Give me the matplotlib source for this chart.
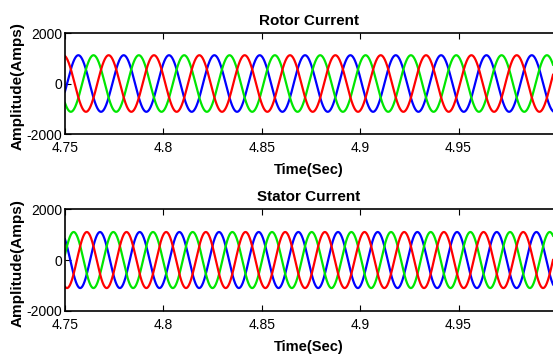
import numpy as np
import matplotlib
matplotlib.use('Agg')
import matplotlib.pyplot as plt

plt.rcParams['font.family'] = ['Liberation Sans', 'DejaVu Sans']

# datos: frecuencia (Hz), amplitud (A), instante del pico (s) por fase
titulos = ['Rotor Current', 'Stator Current']
colores = ['#0000ff', '#00e600', '#ff0000']
frecuencias = [43.4, 49.6]
amplitudes = [1120, 1100]
picos_rotor = [4.7568, 4.7645, 4.7722]    # azul, verde, rojo
picos_estator = [4.7678, 4.7544, 4.7611]  # azul, verde, rojo
picos = [picos_rotor, picos_estator]

t = np.linspace(4.75, 4.998, 3000)
yticks = [-2000, 0, 2000]
xticks = [4.75, 4.8, 4.85, 4.9, 4.95]

fig = plt.figure(figsize=(5.53, 3.55), dpi=100)
posiciones = [[0.1175, 0.6225, 0.8825, 0.2845], [0.1175, 0.124, 0.8825, 0.287]]

for k in range(2):
    ax = fig.add_axes(posiciones[k])
    for c, tp in zip(colores, picos[k]):
        ax.plot(t, amplitudes[k] * np.cos(2 * np.pi * frecuencias[k] * (t - tp)), color=c, lw=1.6)
    ax.set_xlim(4.75, 4.998)
    ax.set_ylim(-2000, 2000)
    ax.set_xticks(xticks)
    ax.set_xticklabels(['4.75', '4.8', '4.85', '4.9', '4.95'])
    ax.set_yticks(yticks)
    ax.set_yticklabels(['-2000', '0', '2000'])
    ax.tick_params(direction='in', top=True, right=False, labelsize=10, length=4)
    ax.tick_params(axis='x', pad=5)
    ax.tick_params(axis='y', pad=2)
    ax.set_title(titulos[k], fontsize=11, fontweight='bold', pad=6)
    ax.set_xlabel('Time(Sec)', fontsize=10.5, fontweight='bold', labelpad=6)
    ax.set_ylabel('Amplitude(Amps)', fontsize=11, fontweight='bold')
    ax.yaxis.set_label_coords(-0.082, 0.47)
    ax.spines['right'].set_visible(False)
    for s in ax.spines.values():
        s.set_linewidth(1.2)

fig.savefig('out.png', dpi=100)
